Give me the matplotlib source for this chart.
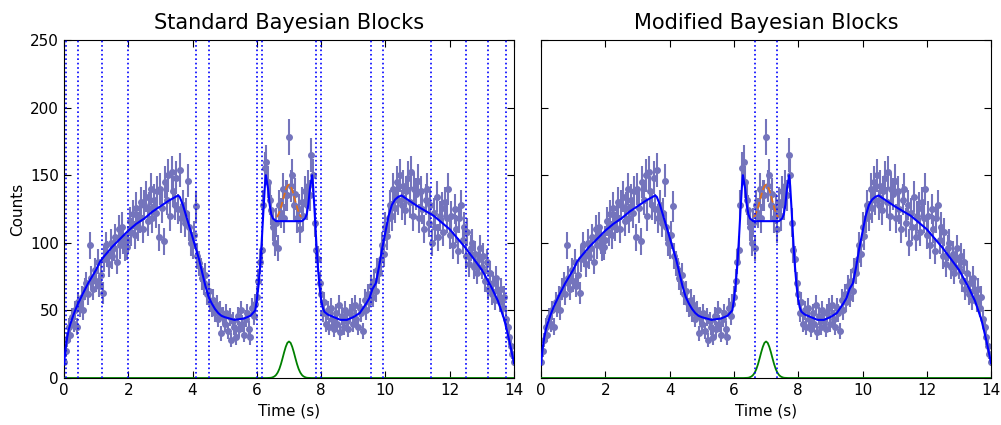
import numpy as np
import matplotlib
matplotlib.use('Agg')
import matplotlib.pyplot as plt

# binned light curve, 0.05 s bins
t_data = np.round(np.arange(0, 14.001, 0.05), 2)
counts = np.array([
    12, 20, 28, 38, 32, 45, 40, 50, 38, 56, 52, 60, 50, 66, 70, 62, 98, 74, 66, 80,
    72, 86, 68, 76, 63, 88, 98, 92, 84, 100, 90, 96, 104, 86, 110, 98, 112, 102, 96, 97,
    102, 116, 108, 121, 106, 126, 112, 118, 130, 110, 128, 134, 116, 126, 140, 118, 132, 122, 138, 104,
    140, 126, 101, 145, 132, 150, 120, 152, 138, 128, 148, 125, 154, 118, 128, 115, 122, 146, 112, 100,
    98, 106, 127, 90, 85, 80, 74, 70, 76, 62, 64, 56, 52, 58, 48, 54, 44, 50, 33, 46,
    40, 48, 35, 45, 28, 42, 38, 30, 46, 36, 50, 40, 32, 44, 48, 36, 30, 52, 46, 55,
    60, 72, 86, 95, 128, 155, 160, 145, 132, 124, 112, 100, 115, 96, 128, 122, 140, 118, 135, 135,
    178, 142, 150, 128, 136, 118, 125, 110, 130, 120, 138, 128, 142, 135, 165, 150, 115, 95, 88, 70,
    62, 48, 56, 40, 50, 38, 52, 44, 36, 48, 40, 54, 34, 46, 38, 50, 42, 36, 48, 52,
    40, 54, 44, 38, 52, 48, 35, 58, 50, 62, 56, 68, 60, 72, 64, 80, 78, 88, 98, 92,
    112, 105, 118, 128, 120, 140, 126, 145, 132, 150, 128, 142, 124, 138, 148, 130, 152, 120, 140, 136,
    146, 118, 138, 125, 110, 132, 140, 115, 128, 100, 122, 112, 134, 104, 120, 126, 108, 130, 118, 140,
    106, 120, 98, 125, 110, 94, 118, 128, 102, 112, 90, 108, 84, 96, 100, 82, 92, 78, 88, 96,
    82, 90, 72, 86, 66, 78, 62, 70, 58, 74, 64, 56, 66, 52, 60, 44, 38, 30, 24, 18,
    12])

# fitted model
t_model = [0, 0.05, 0.1, 0.15, 0.2, 0.3, 0.4, 0.5, 0.6, 0.75, 0.9, 1.0, 1.12, 1.25, 1.5,
           1.75, 2.0, 2.25, 2.5, 2.75, 3.0, 3.25, 3.55, 3.6, 3.7, 3.8, 3.9, 4.0, 4.1,
           4.2, 4.3, 4.4, 4.5, 4.6, 4.7, 4.8, 4.9, 5.0, 5.3, 5.6, 5.8, 5.95, 6.0, 6.05,
           6.1, 6.15, 6.2, 6.25, 6.28, 6.35, 6.4, 6.45, 6.5, 6.55, 6.6, 7.4, 7.45, 7.5,
           7.55, 7.6, 7.65, 7.72, 7.75, 7.8, 7.85, 7.9, 7.95, 8.0, 8.05, 8.1, 8.2, 8.4,
           8.6, 8.8, 9.0, 9.2, 9.4, 9.5, 9.6, 9.7, 9.8, 9.9, 10.0, 10.1, 10.2, 10.3,
           10.4, 10.5, 11.0, 11.5, 12.0, 12.5, 13.0, 13.3, 13.5, 13.7, 13.85, 14.0]
m_model = [10, 22, 30, 36, 40, 47, 53, 58, 63, 70, 76, 80, 86, 90, 97,
           103, 109, 114, 118, 123, 127, 131, 135, 134, 128, 120, 112, 104, 96,
           88, 78, 68, 60, 55, 51, 48, 46, 45, 43, 44, 46, 50, 58, 68,
           82, 100, 122, 142, 150, 140, 128, 121, 118, 117, 116, 116, 117, 118,
           121, 128, 140, 150, 142, 122, 100, 82, 68, 58, 52, 49, 47, 45,
           43, 43, 45, 48, 55, 59, 66, 70, 82, 96, 108, 120, 128, 132,
           134, 135, 127, 120, 110, 96, 80, 67, 57, 43, 28, 11]

# flare component
t_flare = [0, 6.3, 6.4, 6.45, 6.5, 6.55, 6.6, 6.65, 6.7, 6.75, 6.8, 6.85, 6.9, 6.95, 7.0,
           7.05, 7.1, 7.15, 7.2, 7.25, 7.3, 7.35, 7.4, 7.45, 7.5, 7.55, 7.6, 7.7, 14]
m_flare = [0, 0, 0.1, 0.2, 0.6, 1.2, 2.3, 4.1, 6.7, 10.3, 14.6, 19.1, 23.1, 26.0, 27.0,
           26.0, 23.1, 19.1, 14.6, 10.3, 6.7, 4.1, 2.3, 1.2, 0.6, 0.2, 0.1, 0, 0]

# model plus flare where the flare is detected
t_sum = [6.62, 6.65, 6.7, 6.75, 6.8, 6.85, 6.9, 6.95, 7.0, 7.05, 7.1, 7.15, 7.2, 7.25, 7.3, 7.35, 7.38]
m_sum = [119, 120, 122.7, 126.3, 130.6, 135.1, 139.1, 142, 143, 142, 139.1, 135.1, 130.6, 126.3, 122.7, 120, 119]

edges_std = [0.06, 0.44, 1.18, 1.99, 4.11, 4.51, 6.0, 6.16, 7.84, 8.0, 9.55, 9.93,
             11.42, 12.51, 13.19, 13.75]
edges_mod = [6.66, 7.34]

titles = ['Standard Bayesian Blocks', 'Modified Bayesian Blocks']

fig = plt.figure(figsize=(10.01, 4.25), dpi=100)
ax1 = fig.add_axes([0.0639, 0.1106, 0.4496, 0.7953])
ax2 = fig.add_axes([0.5405, 0.1106, 0.4496, 0.7953])

for ax, edges, title in zip([ax1, ax2], [edges_std, edges_mod], titles):
    ax.errorbar(t_data, counts, yerr=np.sqrt(counts), fmt='o', color='#7474bc',
                ms=4, mec='#7474bc', elinewidth=1.5, capsize=0, zorder=1)
    ax.plot(t_sum, m_sum, color='#e0701a', ls='--', lw=1.3, zorder=2)
    ax.plot(t_model, m_model, color='#0000ff', lw=1.5, zorder=3)
    ax.plot(t_flare, m_flare, color='#008000', lw=1.3, zorder=3)
    for e in edges:
        ax.axvline(e, color='#0000ff', ls=':', lw=1.2, zorder=4)
    ax.set_xlim(0, 14)
    ax.set_ylim(0, 250)
    ax.set_xticks(range(0, 15, 2))
    ax.set_yticks(range(0, 251, 50))
    ax.tick_params(direction='in', top=True, right=True, length=5, labelsize=11)
    ax.set_xlabel('Time (s)', fontsize=11)
    ax.set_title(title, fontsize=15, pad=8)

ax1.set_ylabel('Counts', fontsize=11)
ax2.set_yticklabels([])

plt.savefig('out.png')
